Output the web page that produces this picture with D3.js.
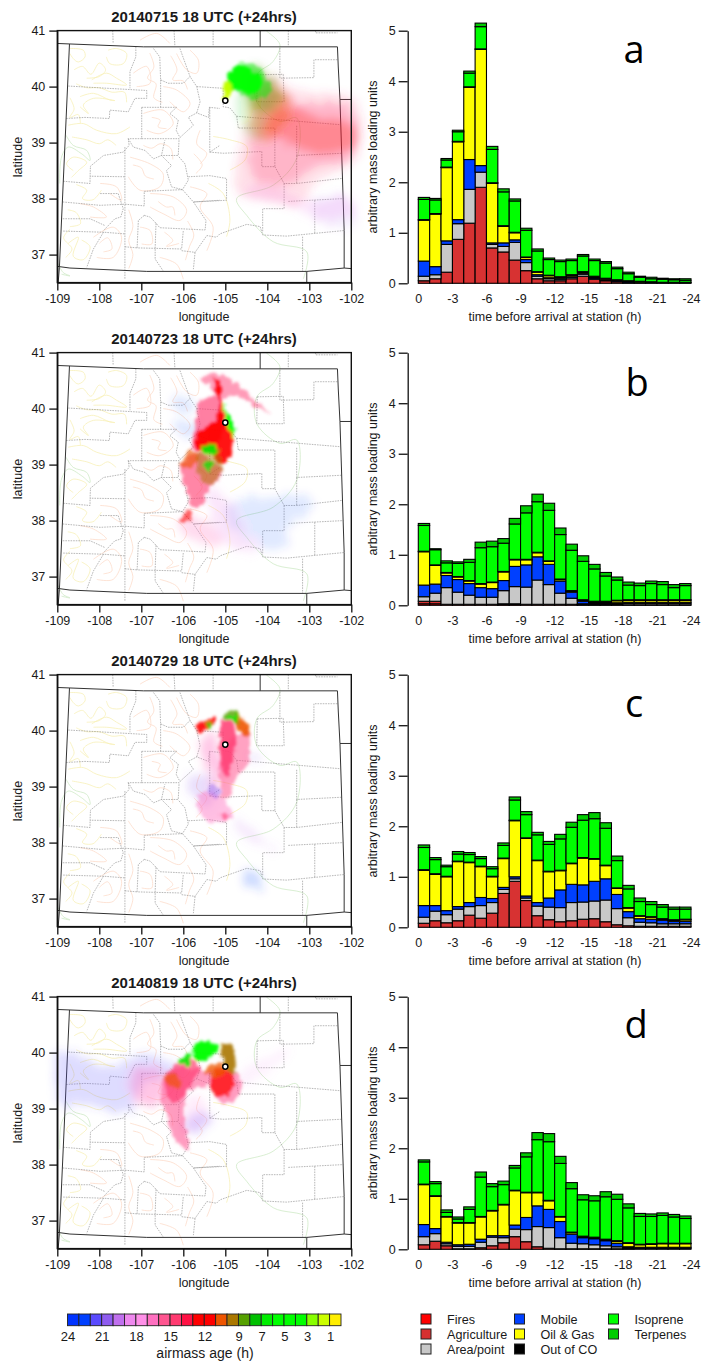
<!DOCTYPE html>
<html>
<head>
<meta charset="utf-8">
<script src="https://cdn.jsdelivr.net/npm/d3@7/dist/d3.min.js"></script>
<style>
body { margin: 0; background: #fff; }
text { font-family: "Liberation Sans", Arial, sans-serif; fill: #1a1a1a; }
</style>
</head>
<body>
<script>
// source categories, bottom of the stack first
var sourceNames = ["Fires", "Agriculture", "Area/point", "Mobile", "Oil & Gas", "Out of CO", "Isoprene", "Terpenes"]
var sourceColors = ["#ff0000", "#d73030", "#c8c8c8", "#0040ff", "#ffff00", "#000000", "#00ff00", "#00cc00"]

var timeTicks = [0, -3, -6, -9, -12, -15, -18, -21, -24]
var loadTicks = [0, 1, 2, 3, 4, 5]
var lonTicks = [-109, -108, -107, -106, -105, -104, -103, -102]
var latTicks = [37, 38, 39, 40, 41]

var panelTitles = ["20140715 18 UTC (+24hrs)", "20140723 18 UTC (+24hrs)", "20140729 18 UTC (+24hrs)", "20140819 18 UTC (+24hrs)"]
var panelLetters = ["a", "b", "c", "d"]

// airmass age colour bar
var ageValues = [24,23,22,21,20,19,18,17,16,15,14,13,12,11,10,9,8,7,6,5,4,3,2,1]
var ageColors = ["#0033ff","#0040ff","#5a4bff","#8f5cf0","#c070ee","#ee88ee","#ff90e8","#ff70c0","#ff5590","#ff3a70","#ff1144","#ff0000","#ff0000","#ee5500","#aa7700","#55a000","#00c000","#00ee00","#00ff00","#00ff00","#00ff00","#88ff00","#ccff00","#ffee00"]
var ageLabels = [24, 21, 18, 15, 12, 9, 7, 5, 3, 1]

var stationLon = -105.0
var stationLat = 39.75

// PANEL A BARS
var firesA = [0,0,0,0,0,0,0,0,0,0,0,0,0,0,0,0,0,0,0,0,0,0,0,0]
var agricultureA = [.05,.09,.22,.87,1.19,1.90,.70,.62,.46,.25,.09,.05,.05,.09,.14,.08,.05,.03,.01,.01,0,0,0,0]
var areaA = [.09,.08,.55,.31,.67,.30,.07,.11,.35,.16,.05,.04,.03,.03,.04,.02,.02,.01,.01,0,.01,.01,.01,.01]
var mobileA = [.30,.16,.07,.08,.59,.13,.03,.07,.05,.06,.03,.02,.02,.01,.02,.01,.01,.01,.01,.01,0,0,0,0]
var oilA = [.81,1.04,1.45,1.54,1.43,2.30,1.18,.33,.14,.04,.05,.04,.02,.03,.02,.02,.01,.01,.01,.01,.01,0,0,0]
var outA = [.01,.01,.01,.01,.01,.01,.01,.01,.01,.01,.01,.01,.01,.01,.01,.01,.01,.01,.01,.01,.01,.01,.01,.01]
var isopreneA = [.40,.27,.14,.19,.27,.44,.66,.67,.62,.53,.41,.31,.30,.28,.31,.31,.30,.22,.14,.08,.06,.06,.05,.04]
var terpenesA = [.04,.03,.03,.03,.04,.07,.06,.06,.04,.04,.04,.03,.03,.03,.03,.03,.03,.03,.03,.02,.03,.02,.02,.03]

// PANEL B BARS
var firesB = [.03,.03,0,0,0,0,0,.01,.01,0,0,0,0,0,0,0,0,0,0,0,0,0,0,0]
var agricultureB = [.05,.05,.02,.02,.02,.02,.02,.02,.02,.02,.02,.02,.02,.02,.01,.01,.01,.01,.01,.01,.01,.01,.01,.01]
var areaB = [.09,.16,.33,.24,.18,.14,.14,.26,.34,.34,.48,.39,.22,.12,.02,.02,.02,.02,.03,.03,.03,.03,.03,.03]
var mobileB = [.23,.18,.24,.25,.23,.19,.17,.20,.40,.44,.46,.40,.24,.12,.05,.02,.02,.02,.02,.02,.02,.02,.02,.02]
var oilB = [.66,.37,.05,.05,.05,.07,.12,.17,.13,.10,.08,.06,.03,.02,.02,.02,.02,.04,.04,.04,.04,.04,.04,.04]
var outB = [.01,.01,.01,.01,.01,.01,.01,.01,.01,.01,.01,.01,.01,.01,.01,.01,.01,.01,.01,.01,.01,.01,.01,.01]
var isopreneB = [.51,.30,.19,.26,.36,.71,.70,.56,.70,.92,1.00,1.00,.88,.80,.76,.64,.50,.40,.29,.28,.32,.30,.24,.28]
var terpenesB = [.04,.02,.04,.03,.06,.11,.11,.09,.11,.14,.15,.14,.13,.12,.11,.09,.07,.06,.06,.05,.05,.06,.06,.04]

// PANEL C BARS
var firesC = [0,0,0,0,0,0,0,0,0,0,0,0,0,0,0,0,0,0,0,0,0,0,0,0]
var agricultureC = [.08,.13,.09,.13,.24,.18,.28,.67,.91,.53,.23,.15,.11,.13,.16,.17,.11,.05,.03,.02,.02,.02,.02,.02]
var areaC = [.12,.19,.16,.23,.17,.25,.21,.08,.05,.05,.19,.25,.28,.36,.34,.35,.43,.32,.16,.08,.07,.05,.05,.05]
var mobileC = [.23,.11,.08,.05,.08,.16,.08,.04,.04,.04,.07,.18,.35,.36,.34,.39,.42,.28,.12,.07,.07,.07,.05,.05]
var oilC = [.70,.62,.67,.89,.79,.61,.43,.57,1.11,1.14,.83,.52,.38,.41,.53,.44,.26,.12,.07,.05,.04,.02,.02,.03]
var outC = [.01,.01,.01,.01,.01,.01,.01,.01,.01,.01,.01,.01,.01,.01,.01,.01,.01,.01,.01,.01,.01,.01,.01,.01]
var isopreneC = [.44,.28,.19,.14,.15,.15,.15,.25,.40,.46,.50,.53,.62,.71,.74,.79,.73,.54,.37,.28,.24,.23,.21,.20]
var terpenesC = [.05,.04,.03,.05,.04,.04,.04,.05,.06,.06,.05,.06,.09,.10,.11,.12,.11,.09,.07,.07,.06,.05,.04,.04]

// PANEL D BARS
var firesD = [0,0,0,0,0,0,0,0,0,0,0,0,0,0,0,0,0,0,0,0,0,0,0,0]
var agricultureD = [.09,.16,.07,.01,.01,.03,.07,.13,.25,.15,.05,.02,.01,.01,.01,.01,.01,.01,.01,0,0,0,0,0]
var areaD = [.16,.15,.04,.05,.05,.11,.17,.10,.15,.24,.40,.41,.22,.11,.10,.08,.06,.04,.02,.02,.02,.02,.02,.02]
var mobileD = [.24,.10,.03,.03,.04,.06,.03,.04,.08,.24,.41,.36,.32,.18,.12,.12,.10,.07,.02,.02,.02,.02,.02,.02]
var oilD = [.79,.64,.50,.43,.42,.44,.49,.61,.68,.49,.26,.17,.09,.03,.02,.02,.02,.04,.07,.05,.06,.07,.07,.07]
var outD = [.01,.01,.01,.01,.01,.01,.01,.01,.01,.01,.01,.01,.01,.01,.01,.01,.01,.01,.01,.01,.01,.01,.01,.01]
var isopreneD = [.44,.24,.08,.07,.26,.78,.47,.39,.44,.70,1.04,1.16,1.05,.86,.72,.72,.84,.82,.69,.55,.54,.55,.52,.49]
var terpenesD = [.04,.04,.05,.04,.05,.10,.06,.07,.05,.08,.14,.16,.14,.12,.10,.10,.10,.10,.08,.06,.05,.05,.05,.05]

// STATE BORDERS, lon/lat
var stateLines = [
	[[-109,40.77],[-106.95,40.71],[-102.33,40.71],[-102.31,40.35],[-102.27,39.77],[-102.17,37.43],[-102.17,36.76]],
	[[-108.71,40.76],[-108.95,36.77],[-108.98,36.49]],
	[[-109,36.79],[-108.7,36.76],[-106.87,36.70],[-103.06,36.70],[-102.17,36.76],[-102,36.75]],
	[[-102.27,39.77],[-102,39.77]],
	[[-104.17,41],[-104.17,40.71]],
	[[-103.06,36.70],[-103.06,36.49]]
]

// COUNTY LINES, lon/lat
var countyLines = [
	[[-108.74,40.01],[-106.87,39.93],[-106.87,39.79],[-107.15,39.79],[-107.31,39.55],[-107.75,39.58],[-107.76,39.43],[-108.34,39.45],[-108.79,39.43]],
	[[-107.13,40.71],[-107.13,40.53],[-107.27,40.27],[-107.27,39.97]],
	[[-106.71,40.68],[-106.56,40.53],[-106.54,40.12],[-106.36,40.06],[-106,40.06],[-105.84,40.18],[-105.68,40],[-105.6,39.73],[-105.68,39.53]],
	[[-106.54,40.12],[-106.54,39.63]],
	[[-106.99,39.63],[-106.16,39.63],[-106.32,39.52],[-106.12,39.40],[-106.17,39.22],[-106.08,39.09],[-105.76,39.31],[-105.88,39.45],[-105.68,39.53],[-105.40,39.45],[-105.38,39.63],[-105.13,39.61]],
	[[-106.99,39.63],[-106.99,39.07],[-107.31,39.07],[-107.29,38.95],[-107.43,38.83],[-107.90,38.77],[-108.21,38.58],[-108.22,38.40],[-107.39,38.39]],
	[[-106.99,39.07],[-106.10,39.07],[-106.12,38.77],[-106.52,38.77],[-106.44,39.04]],
	[[-107.31,39.07],[-107.19,38.92],[-106.91,38.86],[-106.71,38.71],[-106.52,38.77],[-106.28,38.59],[-106.40,38.50],[-106.28,38.21],[-106.02,38.16],[-105.88,38.33],[-105.96,38.62],[-106.12,38.76]],
	[[-107.39,38.92],[-107.39,36.56]],
	[[-108.86,38.31],[-108.22,38.27],[-108.22,38.40]],
	[[-108.87,37.94],[-107.98,37.88],[-107.39,37.90],[-106.93,37.87],[-106.93,38.13],[-106.02,38.16],[-105.76,37.94],[-105.13,37.97]],
	[[-107.98,38.09],[-107.55,38.09],[-107.43,37.82],[-107.49,37.67],[-107.63,37.64],[-107.90,37.43]],
	[[-108.87,37.64],[-108.22,37.64],[-107.87,37.52]],
	[[-108.86,37.42],[-107.90,37.40],[-107.39,37.37]],
	[[-107.90,37.40],[-108.14,37.10],[-108.30,36.77]],
	[[-106.93,37.70],[-106.79,37.67],[-106.65,37.56],[-106.56,37.48],[-105.48,37.44],[-105.46,37.61],[-105.76,37.94]],
	[[-106.93,37.70],[-107.07,37.61],[-107.10,37.12],[-106.04,37.10],[-106,37.43]],
	[[-107.39,37.14],[-107.10,37.12]],
	[[-106.65,37.56],[-106.67,37.12],[-106.67,36.92],[-106.48,36.71]],
	[[-106.04,37.07],[-105.72,37.04],[-105.44,37.34],[-105.21,37.31],[-105.13,37.37],[-104.49,37.54],[-104.17,37.50],[-104.11,37.35],[-103.54,37.33],[-102.17,37.43]],
	[[-105.72,37.04],[-105.76,36.74]],
	[[-105.37,39.63],[-105.37,38.83],[-105.13,38.95]],
	[[-105.68,40],[-105.05,39.97],[-105.05,39.64],[-104.89,39.62],[-104.73,39.47],[-104.69,39.26]],
	[[-105.88,38.39],[-105.37,38.41],[-104.97,38.36],[-104.97,37.97],[-105.76,37.94]],
	[[-106.08,40.68],[-105.84,40.18]],
	[[-105.37,38.83],[-105.05,38.81],[-104.13,38.84],[-104.13,38.57],[-103.82,38.57],[-103.82,39.26],[-104.69,39.26]],
	[[-107.68,41],[-107.67,40.77]],
	[[-106.22,41],[-106.20,40.72]],
	[[-105.29,41],[-105.29,40.72]],
	[[-103.50,41],[-103.50,40.72]],
	[[-102.85,41],[-102.85,40.96],[-102.33,40.96]],
	[[-103.70,40.69],[-103.70,40.15],[-102.89,40.16],[-102.89,40.48],[-102.31,40.48]],
	[[-104.24,40.21],[-103.62,40.22],[-103.60,39.73],[-104.25,39.73],[-104.24,40.21]],
	[[-104.73,39.47],[-102.27,39.32]],
	[[-103.30,39.30],[-103.30,38.77],[-102.23,38.81]],
	[[-103.82,38.57],[-103.60,38.27],[-103.30,38.27],[-102.23,38.36]],
	[[-103.60,38.27],[-103.60,37.82],[-104.11,37.82],[-104.11,37.41]],
	[[-103.50,37.95],[-102.19,38.0]],
	[[-102.87,37.97],[-102.87,37.38]],
	[[-103.16,37.32],[-103.16,36.70]],
	[[-103.30,38.77],[-103.30,38.27]]
]

// TERRAIN CONTOURS, lon/lat
var yellowContours = [
	[[-108.7,40.68],[-108.38,40.65],[-108.34,40.53],[-108.5,40.44],[-108.62,40.5],[-108.7,40.59]],
	[[-107.79,40.65],[-107.59,40.68],[-107.35,40.59],[-107.43,40.41],[-107.75,40.41],[-107.83,40.53]],
	[[-108.18,40.12],[-107.83,40.24],[-107.59,40.15],[-107.35,40.03],[-107.83,40.06],[-108.14,40.06]],
	[[-108.46,39.82],[-108.14,39.88],[-107.75,39.76],[-107.63,39.75],[-108.14,39.79],[-108.38,39.67],[-108.26,39.52],[-108.46,39.64]],
	[[-108.74,39.31],[-108.38,39.34],[-108.06,39.22],[-107.59,39.16],[-107.27,39.28]],
	[[-108.62,38.5],[-108.78,38.62],[-108.62,38.74],[-108.3,38.65],[-108.5,38.5],[-108.66,38.38]],
	[[-108.74,37.2],[-108.5,37.31],[-108.62,36.97],[-108.38,36.91],[-108.22,37.14],[-108.42,37.26]],
	[[-105.29,39.11],[-104.89,39.05],[-104.49,38.93],[-104.53,38.69],[-104.89,38.51]],
	[[-105.4,38.27],[-105.05,38.09],[-104.89,37.62],[-104.97,37.32]],
	[[-108.6,40.3],[-108.4,40.36],[-108.2,40.22],[-108.0,40.42],[-107.85,40.3],[-108.0,40.18],[-108.3,40.15]],
	[[-108.55,40.05],[-108.3,39.98],[-108.0,39.98],[-107.7,39.9],[-107.4,39.9],[-107.35,39.72]],
	[[-108.7,39.8],[-108.6,39.6],[-108.7,39.45],[-108.5,39.5],[-108.45,39.35]],
	[[-108.65,39.1],[-108.3,39.05],[-108.0,38.98],[-107.8,39.05],[-107.6,38.95]],
	[[-108.55,38.25],[-108.3,38.15],[-108.4,38.0],[-108.15,37.98],[-107.95,38.15]],
	[[-108.75,37.8],[-108.55,37.75],[-108.45,37.55],[-108.7,37.5]],
	[[-108.8,36.95],[-108.65,37.1],[-108.85,37.3],[-108.7,37.45]]
]
var peachContours = [
	[[-106.16,40.59],[-105.92,40.3],[-105.68,40.24],[-105.64,40.47],[-105.84,40.65]],
	[[-106.48,40.0],[-106.16,39.94],[-105.84,39.7],[-106,39.55],[-106.32,39.73]],
	[[-106.95,39.52],[-106.48,39.58],[-106.24,39.34],[-106.56,39.16],[-106.87,39.22]],
	[[-107.27,38.74],[-106.79,38.62],[-106.48,38.44],[-106.56,38.21],[-107.03,38.15],[-107.31,38.39]],
	[[-106.79,38.09],[-106.24,38.03],[-105.92,37.79],[-106.08,37.61],[-106.48,37.73],[-106.79,37.85]],
	[[-108.14,37.31],[-107.67,37.49],[-107.47,37.31],[-107.67,36.95],[-108.06,36.95]],
	[[-105.84,38.21],[-105.44,38.09],[-105.6,37.85],[-105.29,37.49],[-105.44,37.07]],
	[[-107.03,37.49],[-106.79,37.43],[-106.75,37.19],[-106.99,37.19]],
	[[-107.98,38.27],[-107.59,38.21],[-107.47,37.97],[-107.75,38.09]],
	[[-107.03,40.83],[-106.63,40.95],[-106.32,40.77]],
	[[-106.56,36.95],[-106.16,36.83],[-106,36.56]],
	[[-105.6,39.22],[-105.68,38.98],[-105.44,38.8],[-105.6,38.62]],
	[[-107.19,40.24],[-106.87,40.36],[-106.79,40.06],[-107.11,40.0]],
	[[-108.46,37.91],[-108.14,37.85],[-107.83,37.67],[-108.22,37.67]],
	[[-106.8,40.6],[-106.7,40.35],[-106.85,40.15],[-106.65,40.05],[-106.7,39.8],[-106.5,39.72]],
	[[-106.3,40.55],[-106.15,40.3],[-106.25,40.12],[-106.0,40.1],[-105.9,39.95]],
	[[-106.75,39.45],[-106.55,39.4],[-106.6,39.28],[-106.4,39.25]],
	[[-106.95,38.95],[-106.75,38.9],[-106.55,38.98],[-106.3,38.9],[-106.25,38.7]],
	[[-107.2,38.6],[-107.0,38.55],[-106.9,38.4],[-106.7,38.35]],
	[[-106.6,37.95],[-106.4,37.85],[-106.25,37.85],[-106.2,37.7]],
	[[-108.0,37.2],[-107.8,37.3],[-107.7,37.1],[-107.9,37.05]],
	[[-107.3,37.8],[-107.2,37.5],[-107.3,37.25],[-107.2,37.0],[-107.3,36.75]],
	[[-106.45,37.4],[-106.25,37.25],[-106.4,37.15],[-106.1,37.2]],
	[[-105.75,38.8],[-105.55,38.6],[-105.7,38.45]],
	[[-105.9,37.6],[-105.75,37.35],[-105.85,37.15],[-105.95,36.9]]
]
var greenContours = [
	[[-104.02,40.99],[-103.70,40.75],[-103.86,40.45],[-104.25,40.21],[-104.25,39.73],[-103.70,39.38],[-103.30,39.44],[-103.30,38.72],[-103.86,38.24],[-104.73,38.0],[-104.49,37.70],[-103.86,37.23],[-103.06,37.05],[-103.14,36.57]],
	[[-108.79,39.13],[-108.62,38.95],[-108.3,38.86],[-108.22,38.68],[-108.42,38.8],[-108.74,38.92],[-108.9,38.74],[-108.94,38.27]],
	[[-108.98,36.84],[-108.86,36.68],[-108.7,36.62],[-108.9,36.65]]
]

// PLUMES: [age in hours, density, outline in lon/lat], oldest air drawn first
var plumeA = [
	[21, .10, [[-102.83,38.0],[-102.1,38.0],[-101.95,37.52],[-102.83,37.64]]],
	[19, .20, [[-104.65,38.15],[-103.78,38.21],[-103.22,37.97],[-102,37.97],[-101.95,37.73],[-102.75,37.61],[-103.38,37.85],[-104.17,37.97]]],
	[15, .16, [[-103.94,40.2],[-103.3,39.95],[-102.5,39.87],[-101.95,39.8],[-101.9,38.68],[-102.83,38.33],[-103.22,37.9],[-104.17,37.97],[-104.73,38.15],[-104.65,38.98],[-104.33,39.58]]],
	[14, .20, [[-103.9,39.95],[-103.2,39.72],[-102,39.6],[-101.95,38.8],[-102.9,38.55],[-103.5,38.25],[-104.2,38.3],[-104.45,38.7],[-104.2,39.4]]],
	[13, .28, [[-103.8,39.62],[-102.9,39.48],[-101.95,39.3],[-101.95,38.95],[-102.75,38.8],[-103.54,39.0],[-104.0,39.2]]],
	[8, .16, [[-104.57,39.95],[-104.1,39.77],[-104.17,39.05],[-104.49,39.17],[-104.73,39.58]]],
	[11, .30, [[-104.17,40.12],[-103.6,39.95],[-103.45,39.52],[-103.86,39.1],[-104.33,39.1],[-104.41,39.58]]],
	[9, .38, [[-104.49,40.36],[-103.94,40.2],[-103.68,39.76],[-104.02,39.55],[-104.33,39.66],[-104.57,39.88]]],
	[7, .5, [[-104.9,40.25],[-104.5,40.42],[-104.1,40.25],[-103.9,39.95],[-104.2,39.78],[-104.6,39.85]]],
	[6, .97, [[-105.0,39.95],[-104.86,40.3],[-104.61,40.4],[-104.33,40.27],[-104.12,40.03],[-104.33,39.88],[-104.57,39.91],[-104.78,39.97],[-104.93,39.88]]],
	[2, .95, [[-105.05,39.78],[-105.0,40.05],[-104.85,40.02],[-104.95,39.78]]]
]
var plumeB = [
	[23, .12, [[-104.89,38.30],[-103.06,38.42],[-102.94,38.24],[-103.54,37.88],[-103.46,37.58],[-104.10,37.52],[-104.65,37.76],[-104.97,38.06]]],
	[23, .12, [[-106.24,40.21],[-105.84,40.21],[-105.76,39.97],[-106.16,39.94]]],
	[23, .14, [[-106.24,39.73],[-105.68,39.73],[-105.64,39.55],[-106,39.52]]],
	[19, .22, [[-105.37,38.60],[-104.89,38.30],[-104.41,37.64],[-104.17,37.49],[-104.65,37.49],[-105.05,37.64],[-105.37,38.12]]],
	[17, .25, [[-106.08,38.06],[-105.60,38.06],[-105.05,37.64],[-105.37,37.58],[-106.0,37.76]]],
	[15, .62, [[-106.08,39.0],[-105.60,39.20],[-105.05,38.84],[-105.37,38.60],[-105.56,38.30],[-105.76,38.24],[-105.92,38.54]]],
	[15, .50, [[-105.60,40.54],[-105.37,40.63],[-105.09,40.63],[-104.65,40.39],[-104.17,40.06],[-103.94,39.91],[-104.21,40.0],[-104.73,40.24],[-105.13,40.21],[-105.40,40.42]]],
	[15, .65, [[-105.64,40.12],[-105.21,40.21],[-105.0,39.79],[-105.29,39.32],[-105.76,39.29],[-105.68,39.73]]],
	[13, .92, [[-105.29,40.57],[-105.13,40.45],[-105.05,39.85],[-104.89,39.61],[-104.85,39.26],[-105.05,39.02],[-105.37,39.20],[-105.68,39.29],[-105.60,39.61],[-105.21,39.79],[-105.17,40.15]]],
	[13, .60, [[-106.08,38.06],[-105.88,38.18],[-105.80,38.0],[-106.08,38.0]]],
	[11, .65, [[-106.08,38.98],[-105.76,39.26],[-105.64,39.17],[-105.84,38.96]]],
	[10, .50, [[-105.68,39.20],[-105.21,39.26],[-105.09,38.84],[-105.37,38.66],[-105.64,38.84]]],
	[7, .90, [[-105.52,39.32],[-105.29,39.38],[-105.13,39.23],[-105.29,39.17],[-105.52,39.23]]],
	[7, .70, [[-105.52,39.08],[-105.29,39.05],[-105.29,38.90],[-105.48,38.90]]],
	[6, .97, [[-105.05,40.09],[-104.89,39.85],[-104.77,39.64],[-104.85,39.49],[-104.97,39.73]]]
]
var plumeC = [
	[23, .20, [[-104.57,37.50],[-104.21,37.38],[-104.13,37.17],[-104.49,37.23]]],
	[20, .15, [[-104.81,38.45],[-104.41,38.27],[-103.78,37.83],[-104.10,37.91],[-104.65,38.21]]],
	[21, .20, [[-105.84,39.17],[-105.37,39.17],[-105.37,38.63],[-105.56,38.69],[-105.88,38.93]]],
	[21, .18, [[-104.41,39.65],[-104.21,39.47],[-104.41,39.41]]],
	[17, .45, [[-105.60,38.87],[-105.05,38.81],[-104.89,38.45],[-105.29,38.36],[-105.60,38.51]]],
	[17, .40, [[-105.29,39.94],[-105.05,39.23],[-105.29,38.87],[-105.40,39.23],[-105.60,39.83]]],
	[21, .45, [[-105.33,39.05],[-105.09,38.87],[-105.29,38.78],[-105.37,38.87]]],
	[16, .55, [[-105.09,39.65],[-104.45,40.0],[-104.45,39.47],[-104.73,39.17],[-104.89,38.81],[-105.05,38.81],[-105.13,39.23]]],
	[15, .85, [[-105.06,40.24],[-104.85,40.15],[-104.73,39.83],[-104.85,39.47],[-104.97,39.17],[-105.05,39.23],[-105.13,39.71]]],
	[15, .60, [[-105.13,38.51],[-104.93,38.48],[-105.0,38.40]]],
	[13, .90, [[-105.72,40.09],[-105.40,40.21],[-105.21,40.24],[-105.29,40.12],[-105.48,40.0],[-105.64,39.94]]],
	[7, .75, [[-105.48,40.12],[-105.29,40.15],[-105.33,40.06],[-105.44,40.06]]],
	[11, .90, [[-104.73,40.30],[-104.49,40.12],[-104.43,39.91],[-104.57,39.91],[-104.77,40.12]]],
	[9, .80, [[-105.0,40.30],[-104.81,40.39],[-104.65,40.24],[-104.69,40.12],[-104.93,40.21]]],
	[7, .80, [[-104.93,40.24],[-104.69,40.27],[-104.71,40.15]]]
]
var plumeD = [
	[22, .20, [[-109,39.97],[-108.54,39.97],[-107.83,39.73],[-106.95,39.97],[-106.24,39.79],[-106.08,39.61],[-106.95,39.44],[-107.27,38.96],[-108.62,39.08],[-108.74,38.96],[-109,39.26]]],
	[22, .22, [[-106.0,38.72],[-105.52,38.96],[-105.37,38.78],[-105.76,38.54]]],
	[18, .18, [[-106.0,39.02],[-105.68,39.26],[-105.37,38.84],[-105.84,38.54],[-106.0,38.60]]],
	[19, .12, [[-104.65,39.61],[-103.46,40.09],[-103.86,39.73],[-104.65,39.44]]],
	[17, .40, [[-107.19,39.67],[-106.48,39.67],[-106.48,39.14],[-107.03,39.08],[-107.27,39.32]]],
	[16, .58, [[-106.48,39.61],[-106.0,39.73],[-105.44,39.67],[-104.65,39.59],[-104.73,39.20],[-105.05,39.08],[-105.37,39.38],[-105.84,39.32],[-106.0,38.96],[-105.88,38.30],[-106.08,38.36],[-106.40,38.84]]],
	[15, .70, [[-106.40,39.56],[-105.92,39.91],[-105.60,39.73],[-105.84,39.38],[-106.08,39.14],[-106.32,39.14]]],
	[13, .75, [[-105.37,39.44],[-105.13,39.73],[-104.85,39.67],[-104.85,39.32],[-105.13,39.20]]],
	[11, .65, [[-106.48,39.59],[-106.16,39.59],[-106.08,39.32],[-106.28,39.38]]],
	[11, .75, [[-105.52,39.67],[-105.09,39.82],[-105.01,39.61],[-105.37,39.59]]],
	[10, .90, [[-105.08,40.18],[-104.83,40.08],[-104.78,39.62],[-105.03,39.78]]],
	[6, .97, [[-105.76,40.12],[-105.48,40.23],[-105.2,40.09],[-105.44,39.86],[-105.72,39.86]]],
	[7, .90, [[-106.14,39.82],[-105.8,39.98],[-105.88,39.78]]]
]

var panelSeries = [
	[firesA, agricultureA, areaA, mobileA, oilA, outA, isopreneA, terpenesA],
	[firesB, agricultureB, areaB, mobileB, oilB, outB, isopreneB, terpenesB],
	[firesC, agricultureC, areaC, mobileC, oilC, outC, isopreneC, terpenesC],
	[firesD, agricultureD, areaD, mobileD, oilD, outD, isopreneD, terpenesD]
]
var panelPlumes = [plumeA, plumeB, plumeC, plumeD]

// LAYOUT
var panelStep = 322
var letterX = [634, 637, 634, 636]
var letterY = [63, 74, 73, 72]
var paleLimit = 0.45 //thin air gets a wider blur than the dense core

var svg = d3.select("body").append("svg")
	.attr("width", 702)
	.attr("height", 1361)

var defs = svg.append("defs")

//ROUGHEN THE PLUME EDGES SO THEY LOOK LIKE PARTICLE CLOUDS AND NOT SMOOTH BLOBS
function PlumeFilter(id, displace, blur){
	var f = defs.append("filter").attr("id", id)
		.attr("x", "-20%").attr("y", "-20%").attr("width", "140%").attr("height", "140%")
	f.append("feTurbulence")
		.attr("type", "fractalNoise").attr("baseFrequency", 0.14).attr("numOctaves", 2).attr("seed", 4).attr("result", "grain")
	f.append("feDisplacementMap")
		.attr("in", "SourceGraphic").attr("in2", "grain").attr("scale", displace)
		.attr("xChannelSelector", "R").attr("yChannelSelector", "G").attr("result", "rough")
	f.append("feGaussianBlur").attr("in", "rough").attr("stdDeviation", blur)
}
PlumeFilter("plumePale", 16, 4)
PlumeFilter("plumeDense", 9, 1.6)

defs.append("filter").attr("id", "softEdge")
	.attr("x", "-2%").attr("y", "-2%").attr("width", "104%").attr("height", "104%")
	.append("feGaussianBlur").attr("stdDeviation", 0.35)

// SCALES, shared by the panels
var lonScale = d3.scaleLinear().domain([-109, -102]).range([57.3, 351.3])
var latScale = d3.scaleLinear().domain([36.5, 41]).range([282.6, 30.6])
var timeScale = d3.scaleLinear().domain([0, -24]).range([418.3, 691])
var loadScale = d3.scaleLinear().domain([0, 5]).range([283.3, 30.7])
var ageColor = d3.scaleOrdinal().domain(ageValues).range(ageColors)
var sourceColor = d3.scaleOrdinal().domain(sourceNames).range(sourceColors)

var geoLine = d3.line()
	.x(function(d){ return lonScale(d[0]) })
	.y(function(d){ return latScale(d[1]) })
var contourLine = d3.line()
	.x(function(d){ return lonScale(d[0]) })
	.y(function(d){ return latScale(d[1]) })
	.curve(d3.curveCatmullRom)
var plumeShape = d3.line()
	.x(function(d){ return lonScale(d[0]) })
	.y(function(d){ return latScale(d[1]) })
	.curve(d3.curveCatmullRomClosed)

var stack = d3.stack().keys(d3.range(sourceNames.length))

function DrawLines(parent, lines, pathMaker, color, width, dash){
	parent.append("g").selectAll("path")
		.data(lines)
		.enter().append("path")
		.attr("d", pathMaker)
		.attr("fill", "none")
		.attr("stroke", color)
		.attr("stroke-width", width)
		.attr("stroke-dasharray", dash)
}

function DrawPlumes(parent, plumes, filterId){
	parent.append("g").attr("filter", "url(#" + filterId + ")").selectAll("path")
		.data(plumes)
		.enter().append("path")
		.attr("d", function(d){ return plumeShape(d[2]) })
		.attr("fill", function(d){ return ageColor(d[0]) })
		.attr("fill-opacity", function(d){ return d[1] })
}

function StyleAxis(axisGroup, width){
	axisGroup.selectAll("path").attr("stroke", "#111").attr("stroke-width", width)
	axisGroup.selectAll("line").attr("stroke", "#111").attr("stroke-width", width)
	axisGroup.selectAll("text").style("font-size", "12.5px")
}

function DrawMap(group, panelIndex){
	var clipId = "mapClip" + panelIndex
	group.append("clipPath").attr("id", clipId).append("rect")
		.attr("x", lonScale(-109)).attr("y", latScale(41))
		.attr("width", lonScale(-102) - lonScale(-109))
		.attr("height", latScale(36.5) - latScale(41))

	var lines = group.append("g").attr("clip-path", "url(#" + clipId + ")")
	DrawLines(lines, yellowContours, contourLine, "#f7f0b8", 0.8, null)
	DrawLines(lines, peachContours, contourLine, "#fcdcca", 0.8, null)
	DrawLines(lines, greenContours, contourLine, "#cfeac6", 0.8, null)
	DrawLines(lines, countyLines, geoLine, "#888", 0.6, "1.6,1")
	DrawLines(lines, stateLines, geoLine, "#333", 1, null)

	//THE PLUMES ARE ALLOWED TO RUN A LITTLE PAST THE FRAME
	var plumes = panelPlumes[panelIndex]
	DrawPlumes(group, plumes.filter(function(d){ return d[1] < paleLimit }), "plumePale")
	DrawPlumes(group, plumes.filter(function(d){ return d[1] >= paleLimit }), "plumeDense")

	group.append("rect")
		.attr("x", lonScale(-109)).attr("y", latScale(41))
		.attr("width", lonScale(-102) - lonScale(-109))
		.attr("height", latScale(36.5) - latScale(41))
		.attr("fill", "none").attr("stroke", "#111").attr("stroke-width", 1.4)

	var xAxis = group.append("g")
		.attr("transform", "translate(0," + latScale(36.5) + ")")
		.call(d3.axisBottom(lonScale).tickValues(lonTicks).tickFormat(String).tickSize(8).tickSizeOuter(0).tickPadding(4))
	StyleAxis(xAxis, 1.3)

	var yAxis = group.append("g")
		.attr("transform", "translate(" + lonScale(-109) + ",0)")
		.call(d3.axisLeft(latScale).tickValues(latTicks).tickFormat(String).tickSize(8).tickSizeOuter(0).tickPadding(4))
	StyleAxis(yAxis, 1.3)

	group.append("circle")
		.attr("cx", lonScale(stationLon)).attr("cy", latScale(stationLat)).attr("r", 2.6)
		.attr("fill", "#fff").attr("stroke", "#000").attr("stroke-width", 1.5)

	group.append("text").attr("x", 204).attr("y", 21.5)
		.attr("text-anchor", "middle").style("font-size", "15px").style("font-weight", "bold")
		.text(panelTitles[panelIndex])
	group.append("text").attr("x", 204).attr("y", 321)
		.attr("text-anchor", "middle").style("font-size", "12.5px")
		.text("longitude")
	group.append("text").attr("transform", "translate(22,157) rotate(-90)")
		.attr("text-anchor", "middle").style("font-size", "12.5px")
		.text("latitude")
}

function DrawBars(group, panelIndex){
	var series = panelSeries[panelIndex]
	var rows = d3.range(series[0].length).map(function(i){
		return series.map(function(s){ return s[i] })
	})
	var layers = stack(rows)

	var bars = group.append("g").attr("filter", "url(#softEdge)")
	bars.selectAll("g")
		.data(layers)
		.enter().append("g")
		.attr("fill", function(d){ return sourceColor(sourceNames[d.key]) })
		.selectAll("rect")
		.data(function(d){ return d })
		.enter().append("rect")
		.attr("x", function(d, i){ return timeScale(-i) })
		.attr("width", function(d, i){ return timeScale(-i - 1) - timeScale(-i) })
		.attr("y", function(d){ return loadScale(d[1]) })
		.attr("height", function(d){ return loadScale(d[0]) - loadScale(d[1]) })
		.attr("stroke", "#000")
		.attr("stroke-width", 1.1)

	var yAxis = group.append("g")
		.attr("transform", "translate(407.7,0)")
		.call(d3.axisLeft(loadScale).tickValues(loadTicks).tickFormat(String).tickSize(9).tickSizeOuter(0).tickPadding(3))
	StyleAxis(yAxis, 1.3)

	var xAxis = group.append("g")
		.attr("transform", "translate(0," + loadScale(0) + ")")
		.call(d3.axisBottom(timeScale).tickValues(timeTicks).tickFormat(String).tickSize(0).tickPadding(11))
	xAxis.select(".domain").remove()
	StyleAxis(xAxis, 0)

	group.append("text").attr("x", 555).attr("y", 321)
		.attr("text-anchor", "middle").style("font-size", "12.5px")
		.text("time before arrival at station (h)")
	group.append("text").attr("transform", "translate(377,157) rotate(-90)")
		.attr("text-anchor", "middle").style("font-size", "12.5px")
		.text("arbitrary mass loading units")

	group.append("text").attr("x", letterX[panelIndex]).attr("y", letterY[panelIndex])
		.attr("text-anchor", "middle")
		.style("font-family", "'Open Sans', sans-serif").style("font-size", "38px").style("fill", "#000")
		.text(panelLetters[panelIndex])
}

panelTitles.forEach(function(title, i){
	var group = svg.append("g").attr("transform", "translate(0," + (i * panelStep) + ")")
	DrawMap(group, i)
	DrawBars(group, i)
})

// COLOUR BAR
var ageBand = d3.scaleBand().domain(ageValues).range([67.5, 341])
var colorBar = svg.append("g")
colorBar.selectAll("rect")
	.data(ageValues)
	.enter().append("rect")
	.attr("x", function(d){ return ageBand(d) })
	.attr("y", 1314)
	.attr("width", ageBand.bandwidth())
	.attr("height", 11.7)
	.attr("fill", function(d){ return ageColor(d) })
	.attr("stroke", "#222")
	.attr("stroke-width", 0.9)
//THE LABELS SIT ON THE LEFT EDGE OF EACH SWATCH
var ageAxisScale = d3.scaleLinear().domain([24, 1]).range([67.6, 330])
var barAxis = colorBar.append("g")
	.attr("transform", "translate(0,1326)")
	.call(d3.axisBottom(ageAxisScale).tickValues(ageLabels).tickFormat(String).tickSize(0).tickPadding(6))
barAxis.select(".domain").remove()
StyleAxis(barAxis, 0)
barAxis.selectAll("text").style("font-size", "13px")
colorBar.append("text").attr("x", 205).attr("y", 1357.5)
	.attr("text-anchor", "middle").style("font-size", "14px")
	.text("airmass age (h)")

// SOURCE LEGEND, three columns
var legendColumn = d3.scaleOrdinal().domain([0, 1, 2]).range([421, 514.5, 608.5])
var legendRow = d3.scaleOrdinal().domain([0, 1, 2]).range([1319, 1334, 1349])
var legend = svg.append("g").selectAll("g")
	.data(sourceNames)
	.enter().append("g")
	.attr("transform", function(d, i){
		return "translate(" + legendColumn(Math.floor(i / 3)) + "," + legendRow(i % 3) + ")"
	})
legend.append("rect")
	.attr("y", -5).attr("width", 10).attr("height", 10)
	.attr("fill", function(d){ return sourceColor(d) })
	.attr("stroke", "#222").attr("stroke-width", 1)
legend.append("text")
	.attr("x", 26).attr("y", 4.5)
	.style("font-size", "12.6px")
	.text(function(d){ return d })
</script>
</body>
</html>
